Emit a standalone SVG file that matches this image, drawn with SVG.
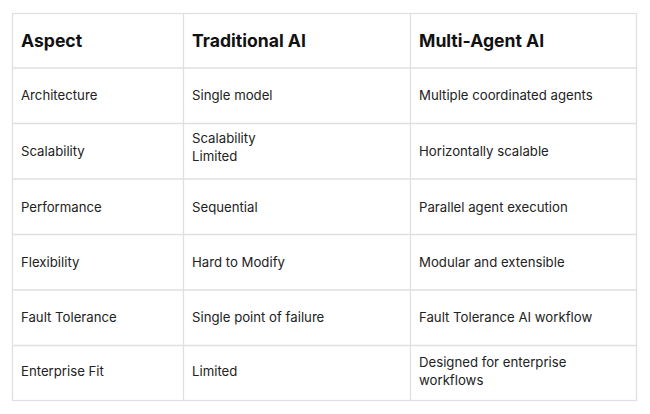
<svg xmlns="http://www.w3.org/2000/svg" width="650" height="414" viewBox="0 0 650 414">
<style>
.g{stroke:#e0e0e0;stroke-width:1.3;fill:none}
.h{font-family:Inter,"Liberation Sans",sans-serif;font-size:17.6px;font-weight:700;fill:#111}
.t{font-family:Inter,"Liberation Sans",sans-serif;font-size:13.2px;fill:#222}
</style>
<rect width="650" height="414" fill="#fff"/>
<g id="grid">
<rect class="g" x="12.5" y="13.5" width="624" height="387"/>
<path class="g" d="M183.5 13.5V400.5M410.5 13.5V400.5M12.5 68H636.5M12.5 123.5H636.5M12.5 179H636.5M12.5 234.5H636.5M12.5 290H636.5M12.5 345.5H636.5"/>
</g>
<g id="header">
<text class="h" x="21" y="47">Aspect</text>
<text class="h" x="192" y="47">Traditional AI</text>
<text class="h" x="419" y="47">Multi-Agent AI</text>
</g>
<g id="r1"><text class="t" x="21" y="100">Architecture</text><text class="t" x="192" y="100">Single model</text><text class="t" x="419" y="100">Multiple coordinated agents</text></g>
<g id="r2"><text class="t" x="21" y="156">Scalability</text><text class="t" x="192" y="143">Scalability</text><text class="t" x="192" y="161">Limited</text><text class="t" x="419" y="156">Horizontally scalable</text></g>
<g id="r3"><text class="t" x="21" y="212">Performance</text><text class="t" x="192" y="212">Sequential</text><text class="t" x="419" y="212">Parallel agent execution</text></g>
<g id="r4"><text class="t" x="21" y="267">Flexibility</text><text class="t" x="192" y="267">Hard to Modify</text><text class="t" x="419" y="267">Modular and extensible</text></g>
<g id="r5"><text class="t" x="21" y="322">Fault Tolerance</text><text class="t" x="192" y="322">Single point of failure</text><text class="t" x="419" y="322">Fault Tolerance AI workflow</text></g>
<g id="r6"><text class="t" x="21" y="376">Enterprise Fit</text><text class="t" x="192" y="376">Limited</text><text class="t" x="419" y="367">Designed for enterprise</text><text class="t" x="419" y="385">workflows</text></g>
</svg>
